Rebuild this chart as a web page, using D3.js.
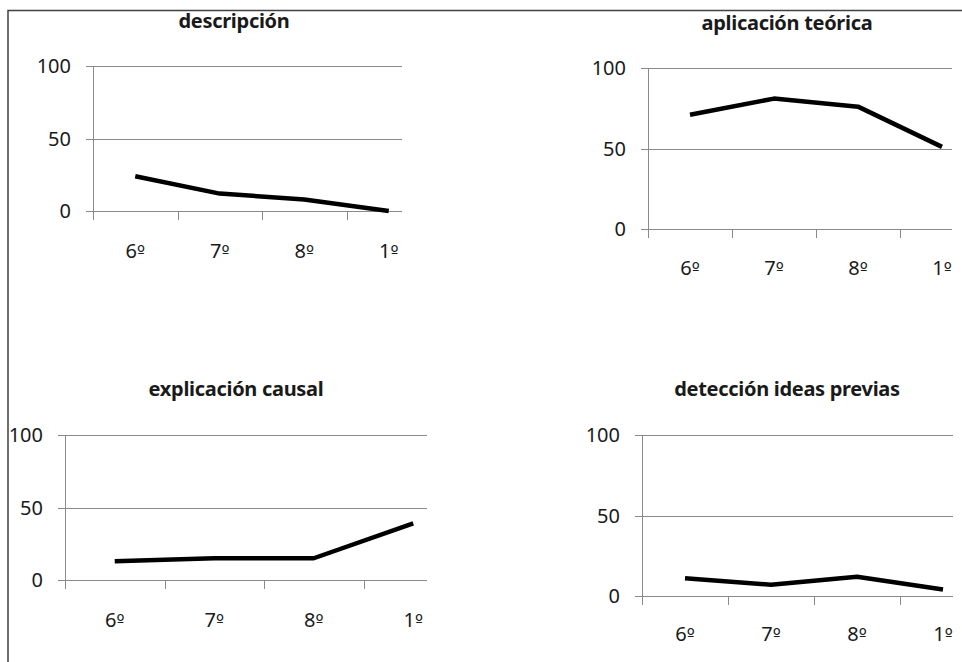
<!DOCTYPE html>
<html>
<head>
<meta charset="utf-8">
<script src="https://cdn.jsdelivr.net/npm/d3@7"></script>
<style>
  body { margin: 0; background: #fff; }
  svg text { font-family: "Noto Sans", sans-serif; fill: #1a1a1a; }
</style>
</head>
<body>
<svg id="chart" width="962" height="662"></svg>
<script>
// data (percent per course)
const categories = ['6º', '7º', '8º', '1º']
const titles = ['descripción', 'aplicación teórica', 'explicación causal', 'detección ideas previas']
const descripcion = [24, 12, 8, 0]
const aplicacionTeorica = [71, 81, 76, 51]
const explicacionCausal = [13, 15, 15, 39]
const deteccionIdeas = [11, 7, 12, 4]
const yTicks = [0, 50, 100]

const seriesList = [descripcion, aplicacionTeorica, explicacionCausal, deteccionIdeas]

// layout of each small panel
const panels = [
  { x0: 93, x1: 431, gridEnd: 402, yTop: 66, yBottom: 211, titleX: 234, titleY: 28, labelY: 258 },
  { x0: 648, x1: 984, gridEnd: 952, yTop: 68, yBottom: 229, titleX: 787, titleY: 30, labelY: 275 },
  { x0: 65, x1: 463, gridEnd: 427, yTop: 435, yBottom: 580, titleX: 236, titleY: 396, labelY: 627 },
  { x0: 642, x1: 986, gridEnd: 953, yTop: 435, yBottom: 596, titleX: 787, titleY: 396, labelY: 641 }
]

const svg = d3.select('#chart')

// outer frame (only top and left edges are visible)
svg.append('path')
  .attr('d', 'M8,662V10.5H962')
  .attr('fill', 'none')
  .attr('stroke', '#404040')
  .attr('stroke-width', 1.5)

/**
 * Draws one small line chart.
 */
function drawPanel (p, values, title) {
  const g = svg.append('g')

  const x = d3.scaleBand().domain(categories).range([p.x0, p.x1])
  const y = d3.scaleLinear().domain([0, 100]).range([p.yBottom, p.yTop])

  g.append('text')
    .attr('x', p.titleX)
    .attr('y', p.titleY)
    .attr('text-anchor', 'middle')
    .style('font-size', '20px')
    .style('font-weight', 'bold')
    .style('letter-spacing', '-0.3px')
    .text(title)

  // gridlines
  g.selectAll('.grid')
    .data(yTicks)
    .enter()
    .append('line')
    .attr('x1', p.x0 - 7)
    .attr('x2', p.gridEnd)
    .attr('y1', d => Math.round(y(d)) + 0.5)
    .attr('y2', d => Math.round(y(d)) + 0.5)
    .attr('stroke', '#8a8a8a')

  // y axis line and labels
  g.append('line')
    .attr('x1', p.x0 + 0.5).attr('x2', p.x0 + 0.5)
    .attr('y1', p.yTop).attr('y2', p.yBottom + 9)
    .attr('stroke', '#8a8a8a')

  g.selectAll('.ylab')
    .data(yTicks)
    .enter()
    .append('text')
    .attr('x', p.x0 - 22)
    .attr('y', d => y(d))
    .attr('dy', '0.35em')
    .attr('text-anchor', 'end')
    .style('font-size', '20px')
    .text(d => d)

  // category ticks between bands
  g.selectAll('.xtick')
    .data(categories.slice(1))
    .enter()
    .append('line')
    .attr('x1', d => Math.round(x(d)) + 0.5)
    .attr('x2', d => Math.round(x(d)) + 0.5)
    .attr('y1', p.yBottom)
    .attr('y2', p.yBottom + 9)
    .attr('stroke', '#8a8a8a')

  // labels: digit in the main font, ordinal sign from a font that underlines it
  const xlab = g.selectAll('.xlab')
    .data(categories)
    .enter()
    .append('text')
    .attr('x', d => x(d) + x.bandwidth() / 2)
    .attr('y', p.labelY)
    .attr('text-anchor', 'middle')
    .style('font-size', '20px')
  xlab.append('tspan').text(d => d.slice(0, -1))
  xlab.append('tspan')
    .style('font-family', '"DejaVu Sans"')
    .style('font-size', '17px')
    .text(d => d.slice(-1))

  const line = d3.line()
    .x((d, i) => x(categories[i]) + x.bandwidth() / 2)
    .y(d => y(d))

  g.append('path')
    .datum(values)
    .attr('d', line)
    .attr('fill', 'none')
    .attr('stroke', '#000')
    .attr('stroke-width', 4.5)
    .attr('stroke-linejoin', 'round')
}

panels.forEach((p, i) => drawPanel(p, seriesList[i], titles[i]))
</script>
</body>
</html>
